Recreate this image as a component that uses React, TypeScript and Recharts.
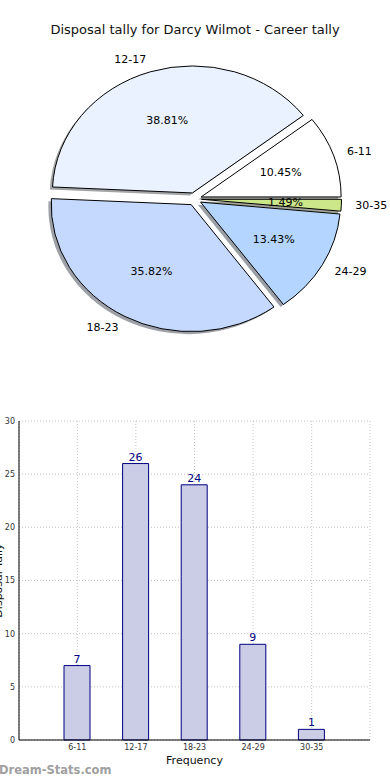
import {
  PieChart,
  Pie,
  BarChart,
  Bar,
  XAxis,
  YAxis,
  CartesianGrid,
  LabelList,
} from "recharts";

const categories = ["6-11", "12-17", "18-23", "24-29", "30-35"];
const tallies = [7, 26, 24, 9, 1];
const sliceColors = ["#ffffff", "#eaf2ff", "#c5d9ff", "#b3d5ff", "#cce68a"];
const yTicks = [0, 5, 10, 15, 20, 25, 30];

const FONT = "'DejaVu Sans', sans-serif";
const RX = 140;
const RY = 127;
const EXPLODE = 0.05;
const RAD = Math.PI / 180;

const pieData = categories.map((name, i) => ({ name, value: tallies[i] }));
const barData = categories.map((range, i) => ({ range, count: tallies[i] }));

function wedgePath(cx: number, cy: number, a0: number, a1: number) {
  const x0 = cx + RX * Math.cos(a0 * RAD);
  const y0 = cy - RY * Math.sin(a0 * RAD);
  const x1 = cx + RX * Math.cos(a1 * RAD);
  const y1 = cy - RY * Math.sin(a1 * RAD);
  const large = a1 - a0 > 180 ? 1 : 0;
  return `M${cx},${cy} L${x0},${y0} A${RX},${RY} 0 ${large} 0 ${x1},${y1} Z`;
}

function darken(hex: string) {
  const n = parseInt(hex.slice(1), 16);
  const r = Math.round(((n >> 16) & 255) * 0.3);
  const g = Math.round(((n >> 8) & 255) * 0.3);
  const b = Math.round((n & 255) * 0.3);
  return `rgb(${r},${g},${b})`;
}

// wedge center after exploding it outward
function exploded(p: any) {
  const mid = (p.startAngle + p.endAngle) / 2;
  return {
    mid,
    x: p.cx + EXPLODE * RX * Math.cos(mid * RAD),
    y: p.cy - EXPLODE * RY * Math.sin(mid * RAD),
  };
}

function renderShadow(p: any) {
  const { x, y } = exploded(p);
  const a0 = Math.min(p.startAngle, p.endAngle);
  const a1 = Math.max(p.startAngle, p.endAngle);
  return (
    <path
      key={`s${p.index}`}
      d={wedgePath(x - 0.02 * RX, y + 0.02 * RY, a0, a1)}
      fill={darken(sliceColors[p.index])}
      fillOpacity={0.5}
      stroke="none"
    />
  );
}

function renderWedge(p: any) {
  const { mid, x, y } = exploded(p);
  const a0 = Math.min(p.startAngle, p.endAngle);
  const a1 = Math.max(p.startAngle, p.endAngle);
  const lx = x + 1.1 * RX * Math.cos(mid * RAD);
  const ly = y - 1.1 * RY * Math.sin(mid * RAD);
  const px = x + 0.6 * RX * Math.cos(mid * RAD);
  const py = y - 0.6 * RY * Math.sin(mid * RAD);
  return (
    <g key={`w${p.index}`}>
      <path
        d={wedgePath(x, y, a0, a1)}
        fill={sliceColors[p.index]}
        stroke="#000"
        strokeWidth={1}
      />
      <text
        x={lx}
        y={ly}
        textAnchor={Math.cos(mid * RAD) > 0 ? "start" : "end"}
        dominantBaseline="central"
        fontSize={11}
        fontFamily={FONT}
        fill="#000"
      >
        {p.name}
      </text>
      <text
        x={px}
        y={py}
        textAnchor="middle"
        dominantBaseline="central"
        fontSize={11}
        fontFamily={FONT}
        fill="#000"
      >
        {(p.percent * 100).toFixed(2)}%
      </text>
    </g>
  );
}

export default function App() {
  return (
    <div
      style={{
        position: "absolute",
        left: 0,
        top: 0,
        width: 390,
        height: 780,
        background: "#fff",
        fontFamily: FONT,
      }}
    >
      <div
        style={{
          position: "absolute",
          top: 22,
          left: 0,
          width: 390,
          textAlign: "center",
          fontSize: 13,
          color: "#111",
          zIndex: 2,
        }}
      >
        Disposal tally for Darcy Wilmot - Career tally
      </div>

      <div style={{ position: "absolute", top: 0, left: 0 }}>
        <PieChart
          width={390}
          height={380}
          margin={{ top: 0, right: 0, bottom: 0, left: 0 }}
        >
          <Pie
            data={pieData}
            dataKey="value"
            nameKey="name"
            cx={194.5}
            cy={199}
            outerRadius={RX}
            startAngle={0}
            endAngle={360}
            fill="none"
            stroke="none"
            labelLine={false}
            label={renderShadow}
            isAnimationActive={false}
          />
          <Pie
            data={pieData}
            dataKey="value"
            nameKey="name"
            cx={194.5}
            cy={199}
            outerRadius={RX}
            startAngle={0}
            endAngle={360}
            fill="none"
            stroke="none"
            labelLine={false}
            label={renderWedge}
            isAnimationActive={false}
          />
        </PieChart>
      </div>

      <div style={{ position: "absolute", top: 400, left: 0 }}>
        <BarChart
          width={390}
          height={380}
          data={barData}
          margin={{ top: 21, right: 20, bottom: 10, left: 0 }}
        >
          <CartesianGrid stroke="#c4c4c4" strokeDasharray="1 2" />
          <XAxis
            dataKey="range"
            padding={{ left: 29, right: 29 }}
            height={30}
            tickSize={2}
            tickMargin={2}
            tickLine={false}
            stroke="#000"
            tick={{ fontSize: 8, fill: "#333", fontFamily: FONT }}
            label={({ viewBox }: any) => (
              <text
                x={viewBox.x + viewBox.width / 2}
                y={viewBox.y + 24}
                textAnchor="middle"
                fontSize={11}
                fontFamily={FONT}
                fill="#111"
              >
                Frequency
              </text>
            )}
          />
          <XAxis
            xAxisId="top"
            orientation="top"
            dataKey="range"
            padding={{ left: 29, right: 29 }}
            height={0}
            tick={false}
            tickLine={false}
            stroke="#000"
          />
          <YAxis
            width={19}
            domain={[0, 30]}
            ticks={yTicks}
            tickSize={2}
            tickMargin={2}
            tickLine={false}
            stroke="#000"
            tick={{ fontSize: 8, fill: "#333", fontFamily: FONT }}
            label={({ viewBox }: any) => (
              <text
                transform={`translate(1.5,${viewBox.y + viewBox.height / 2}) rotate(-90)`}
                textAnchor="middle"
                fontSize={11}
                fontFamily={FONT}
                fill="#111"
              >
                Disposal Tally
              </text>
            )}
          />
          <YAxis
            yAxisId="right"
            orientation="right"
            width={0}
            domain={[0, 30]}
            tick={false}
            tickLine={false}
            stroke="#000"
          />
          <Bar
            dataKey="count"
            fill="#cbcce6"
            stroke="#000080"
            strokeWidth={1}
            barSize={26}
            isAnimationActive={false}
          >
            <LabelList
              dataKey="count"
              position="top"
              offset={3}
              fill="#000080"
              fontSize={11}
              fontFamily={FONT}
            />
          </Bar>
        </BarChart>
      </div>

      <div
        style={{
          position: "absolute",
          left: -1,
          top: 763,
          fontSize: 11.5,
          fontWeight: "bold",
          color: "#a0a0a0",
        }}
      >
        Dream-Stats.com
      </div>
    </div>
  );
}
